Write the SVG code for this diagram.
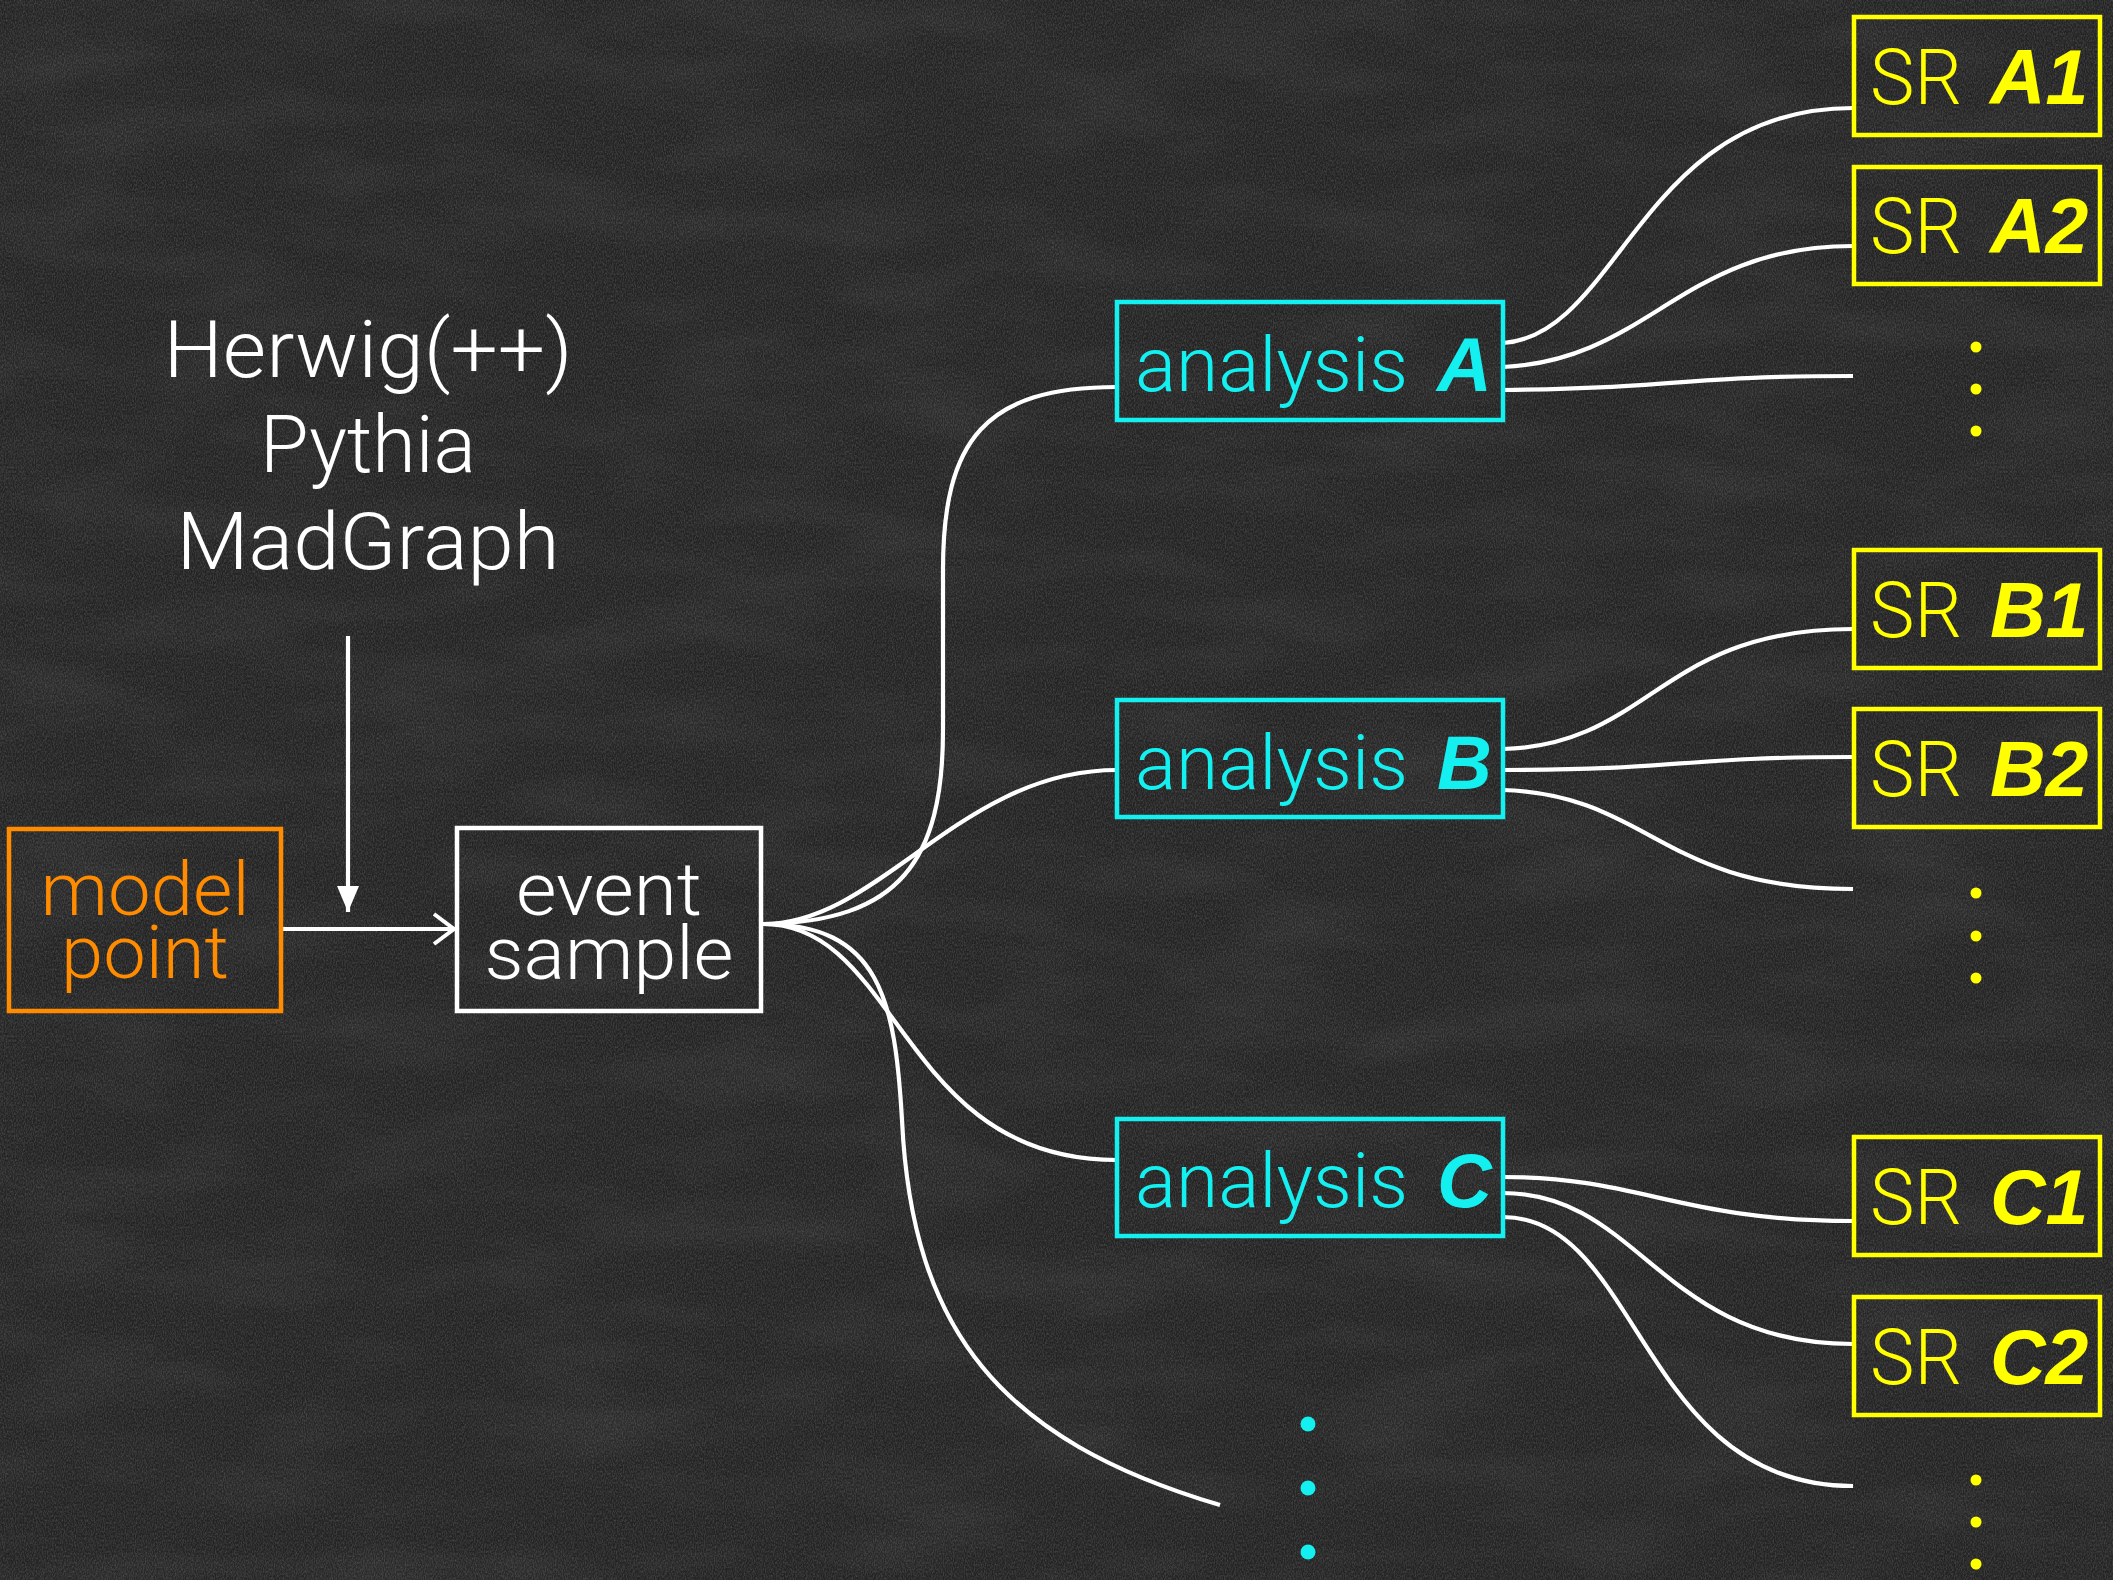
<svg xmlns="http://www.w3.org/2000/svg" width="2113" height="1580" viewBox="0 0 2113 1580">
  <defs>
    <filter id="grain" x="0" y="0" width="100%" height="100%">
      <feTurbulence type="fractalNoise" baseFrequency="0.9 0.45" numOctaves="3" seed="7" result="n"/>
      <feColorMatrix in="n" type="matrix" values="0 0 0 0 1  0 0 0 0 1  0 0 0 0 1  0 0 0 0.55 -0.18"/>
    </filter>
    <filter id="smudge" x="0" y="0" width="100%" height="100%">
      <feTurbulence type="fractalNoise" baseFrequency="0.006 0.02" numOctaves="3" seed="3" result="m"/>
      <feColorMatrix in="m" type="matrix" values="0 0 0 0 1  0 0 0 0 1  0 0 0 0 1  0 0 0 0.5 -0.2"/>
    </filter>
    <marker id="tri" markerUnits="userSpaceOnUse" markerWidth="28" markerHeight="24" refX="26" refY="12" orient="auto">
      <path d="M0,1 L26,12 L0,23 Z" fill="#ffffff"/>
    </marker>
    <marker id="chev" markerUnits="userSpaceOnUse" markerWidth="26" markerHeight="34" refX="23" refY="17" orient="auto">
      <path d="M2,2 L22,17 L2,32" fill="none" stroke="#ffffff" stroke-width="4"/>
    </marker>
  </defs>
  <style>
    .light { font-family: "Roboto", "Lato", "Liberation Sans", sans-serif; font-weight: 300; }
    .bold { font-family: "Liberation Sans", "Arial", sans-serif; font-weight: 700; font-style: italic; }
    .box { fill: none; stroke-width: 4.5; }
    .wire { fill: none; stroke: #ffffff; stroke-width: 4.2; stroke-linecap: butt; }
    .cyan { fill: #14f0f0; }
    .yellow { fill: #ffff00; }
    .orange { fill: #ff8c00; }
    .white { fill: #ffffff; }
  </style>

  <!-- chalkboard background -->
  <rect width="2113" height="1580" fill="#232323"/>
  <rect width="2113" height="1580" filter="url(#smudge)" opacity="0.18"/>
  <rect width="2113" height="1580" filter="url(#grain)" opacity="0.5"/>

  <!-- generator list -->
  <g id="generators" class="light white" font-size="79" text-anchor="middle">
    <text x="368" y="377" textLength="409" lengthAdjust="spacingAndGlyphs">Herwig(++)</text>
    <text x="368" y="472" textLength="216" lengthAdjust="spacingAndGlyphs">Pythia</text>
    <text x="368" y="569" textLength="383" lengthAdjust="spacingAndGlyphs">MadGraph</text>
  </g>

  <!-- connectors -->
  <g id="connectors">
    <line class="wire" x1="348" y1="636" x2="348" y2="912" marker-end="url(#tri)"/>
    <line class="wire" x1="281" y1="929" x2="455" y2="929" marker-end="url(#chev)"/>

    <!-- event sample fan-out -->
    <path class="wire" d="M763,924 C900,922 943,860 943,730 L943,570 C943,440 985,387 1117,387"/>
    <path class="wire" d="M763,924 C880,924 960,770 1117,770"/>
    <path class="wire" d="M763,924 C900,924 900,1160 1117,1160"/>
    <path class="wire" d="M763,924 C880,924 895,1000 902,1120 C912,1330 1000,1440 1220,1505"/>

    <!-- analysis A to signal regions -->
    <path class="wire" d="M1503,343 C1620,335 1640,108 1853,108"/>
    <path class="wire" d="M1503,367 C1650,360 1680,246 1853,246"/>
    <path class="wire" d="M1503,390 C1680,388 1680,376 1853,376"/>

    <!-- analysis B to signal regions -->
    <path class="wire" d="M1503,749 C1650,745 1660,629 1853,629"/>
    <path class="wire" d="M1503,770 C1680,770 1680,757 1853,757"/>
    <path class="wire" d="M1503,790 C1650,795 1660,889 1853,889"/>

    <!-- analysis C to signal regions -->
    <path class="wire" d="M1503,1177 C1640,1177 1680,1221 1853,1221"/>
    <path class="wire" d="M1503,1193 C1640,1193 1660,1344 1853,1344"/>
    <path class="wire" d="M1503,1217 C1640,1217 1640,1486 1853,1486"/>
  </g>

  <!-- model point -->
  <g id="model-point">
    <rect class="box" x="9" y="829" width="272" height="182" stroke="#ff8c00"/>
    <text class="light orange" font-size="74" text-anchor="middle"><tspan x="145" y="915" textLength="209" lengthAdjust="spacingAndGlyphs">model</tspan><tspan x="145" y="978" textLength="168" lengthAdjust="spacingAndGlyphs">point</tspan></text>
  </g>

  <!-- event sample -->
  <g id="event-sample">
    <rect class="box" x="457" y="828" width="304" height="183" stroke="#ffffff"/>
    <text class="light white" font-size="74" text-anchor="middle"><tspan x="609" y="915" textLength="186" lengthAdjust="spacingAndGlyphs">event</tspan><tspan x="609" y="979" textLength="249" lengthAdjust="spacingAndGlyphs">sample</tspan></text>
  </g>

  <!-- analyses -->
  <g id="analysis-a">
    <rect class="box" x="1117" y="302" width="386" height="118" stroke="#14f0f0"/>
    <text font-size="76"><tspan class="light cyan" x="1135" y="391" textLength="273" lengthAdjust="spacingAndGlyphs">analysis</tspan><tspan class="bold cyan" x="1437" y="391">A</tspan></text>
  </g>
  <g id="analysis-b">
    <rect class="box" x="1117" y="700" width="386" height="117" stroke="#14f0f0"/>
    <text font-size="76"><tspan class="light cyan" x="1135" y="789" textLength="273" lengthAdjust="spacingAndGlyphs">analysis</tspan><tspan class="bold cyan" x="1437" y="789">B</tspan></text>
  </g>
  <g id="analysis-c">
    <rect class="box" x="1117" y="1119" width="386" height="117" stroke="#14f0f0"/>
    <text font-size="76"><tspan class="light cyan" x="1135" y="1207" textLength="273" lengthAdjust="spacingAndGlyphs">analysis</tspan><tspan class="bold cyan" x="1437" y="1207">C</tspan></text>
  </g>

  <!-- further analyses -->
  <g id="analysis-more" class="cyan">
    <circle cx="1308" cy="1424" r="7.5"/>
    <circle cx="1308" cy="1488" r="7.5"/>
    <circle cx="1308" cy="1552" r="7.5"/>
  </g>

  <!-- signal regions -->
  <g id="sr-a1">
    <rect class="box" x="1854" y="17" width="246" height="118" stroke="#ffff00"/>
    <text font-size="77"><tspan class="light yellow" x="1870" y="104" textLength="92" lengthAdjust="spacingAndGlyphs">SR</tspan><tspan class="bold yellow" x="1990" y="104">A1</tspan></text>
  </g>
  <g id="sr-a2">
    <rect class="box" x="1854" y="167" width="246" height="117" stroke="#ffff00"/>
    <text font-size="77"><tspan class="light yellow" x="1870" y="253" textLength="92" lengthAdjust="spacingAndGlyphs">SR</tspan><tspan class="bold yellow" x="1990" y="253">A2</tspan></text>
  </g>
  <g id="sr-a-more" class="yellow">
    <circle cx="1976" cy="347" r="5.5"/>
    <circle cx="1976" cy="389" r="5.5"/>
    <circle cx="1976" cy="431" r="5.5"/>
  </g>

  <g id="sr-b1">
    <rect class="box" x="1854" y="550" width="246" height="118" stroke="#ffff00"/>
    <text font-size="77"><tspan class="light yellow" x="1870" y="637" textLength="92" lengthAdjust="spacingAndGlyphs">SR</tspan><tspan class="bold yellow" x="1990" y="637">B1</tspan></text>
  </g>
  <g id="sr-b2">
    <rect class="box" x="1854" y="709" width="246" height="118" stroke="#ffff00"/>
    <text font-size="77"><tspan class="light yellow" x="1870" y="796" textLength="92" lengthAdjust="spacingAndGlyphs">SR</tspan><tspan class="bold yellow" x="1990" y="796">B2</tspan></text>
  </g>
  <g id="sr-b-more" class="yellow">
    <circle cx="1976" cy="893" r="5.5"/>
    <circle cx="1976" cy="936" r="5.5"/>
    <circle cx="1976" cy="978" r="5.5"/>
  </g>

  <g id="sr-c1">
    <rect class="box" x="1854" y="1137" width="246" height="118" stroke="#ffff00"/>
    <text font-size="77"><tspan class="light yellow" x="1870" y="1224" textLength="92" lengthAdjust="spacingAndGlyphs">SR</tspan><tspan class="bold yellow" x="1990" y="1224">C1</tspan></text>
  </g>
  <g id="sr-c2">
    <rect class="box" x="1854" y="1297" width="246" height="118" stroke="#ffff00"/>
    <text font-size="77"><tspan class="light yellow" x="1870" y="1384" textLength="92" lengthAdjust="spacingAndGlyphs">SR</tspan><tspan class="bold yellow" x="1990" y="1384">C2</tspan></text>
  </g>
  <g id="sr-c-more" class="yellow">
    <circle cx="1976" cy="1480" r="5.5"/>
    <circle cx="1976" cy="1522" r="5.5"/>
    <circle cx="1976" cy="1564" r="5.5"/>
  </g>
</svg>
